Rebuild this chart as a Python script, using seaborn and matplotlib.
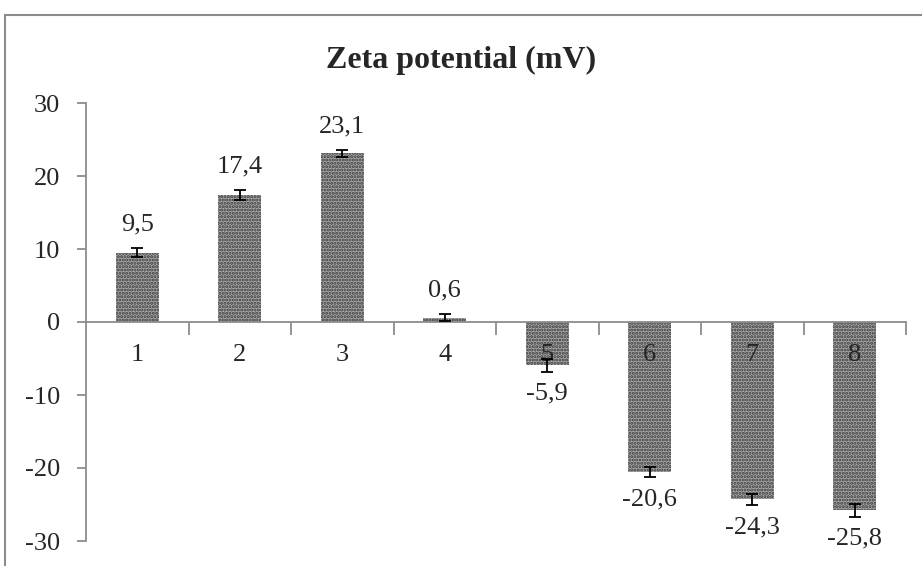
import numpy as np
import pandas as pd
import matplotlib
matplotlib.use("Agg")
import matplotlib.pyplot as plt
from matplotlib.patches import Rectangle
import seaborn as sns

sns.set_theme(style="white")
plt.rcParams['font.family'] = ['Liberation Serif', 'DejaVu Serif']
plt.rcParams['hatch.linewidth'] = 1.5

### Data
samples = ["1", "2", "3", "4", "5", "6", "7", "8"]
zeta = [9.5, 17.4, 23.1, 0.6, -5.9, -20.6, -24.3, -25.8]
zeta_err = [0.6, 0.7, 0.5, 0.5, 0.9, 0.7, 0.8, 0.9]
zeta_labels = ["9,5", "17,4", "23,1", "0,6", "-5,9", "-20,6", "-24,3", "-25,8"]
yticks = [-30, -20, -10, 0, 10, 20, 30]

df = pd.DataFrame({"sample": samples, "zeta": zeta, "err": zeta_err})

fig = plt.figure(figsize=(9.22, 5.66), dpi=100)
# frame of the chart area
fig.patches.append(Rectangle((5 / 922, -0.05), 1.2, 1 - 15 / 566 + 0.05,
                             transform=fig.transFigure, fill=False,
                             edgecolor='#8c8c8c', linewidth=1.5))
ax = fig.add_axes([86 / 922, 1 - 541 / 566, 820 / 922, 438 / 566])

sns.barplot(data=df, x="sample", y="zeta", color="#a8a8a8", saturation=1,
            width=0.42, ax=ax, errorbar=None)
for p in ax.patches:
    p.set_hatch('.....')
    p.set_edgecolor('#3a3a3a')
    p.set_linewidth(0)

ax.errorbar(np.arange(len(samples)), df["zeta"], yerr=df["err"], fmt='none',
            ecolor='black', elinewidth=1.3, capsize=4, capthick=1.3, zorder=3)

for i, (v, e, lab) in enumerate(zip(zeta, zeta_err, zeta_labels)):
    if v >= 0:
        ax.text(i, v + e + 3.2, lab, ha='center', va='center', fontsize=19)
    else:
        ax.text(i, v - e - 3.0, lab, ha='center', va='center', fontsize=19)

ax.set_ylim(-30, 30)
ax.set_xlim(-0.5, len(samples) - 0.5)
ax.set_yticks(yticks)
ax.set_yticklabels([str(t) for t in yticks], fontsize=19)
ax.set_xlabel("")
ax.set_ylabel("")
ax.set_axisbelow(False)

for s in ['top', 'right']:
    ax.spines[s].set_visible(False)
ax.spines['bottom'].set_position(('data', 0))
ax.spines['bottom'].set_color('#8c8c8c')
ax.spines['left'].set_color('#8c8c8c')
ax.spines['bottom'].set_linewidth(1.3)
ax.spines['left'].set_linewidth(1.3)

ax.tick_params(axis='y', which='major', direction='out', length=6.5, width=1.3,
               color='#8c8c8c', left=True, pad=12)
ax.set_xticks(np.arange(len(samples)))
ax.set_xticklabels(samples, fontsize=19)
ax.set_xticks(np.arange(len(samples)) + 0.5, minor=True)
ax.tick_params(axis='x', which='major', length=0, pad=16, bottom=True)
ax.tick_params(axis='x', which='minor', direction='out', length=9, width=1.3,
               color='#8c8c8c', bottom=True)

fig.text(0.5, 1 - 60 / 566, "Zeta potential (mV)", ha='center', va='center',
         fontsize=23, fontweight='bold')

fig.savefig("out.png", dpi=100)
